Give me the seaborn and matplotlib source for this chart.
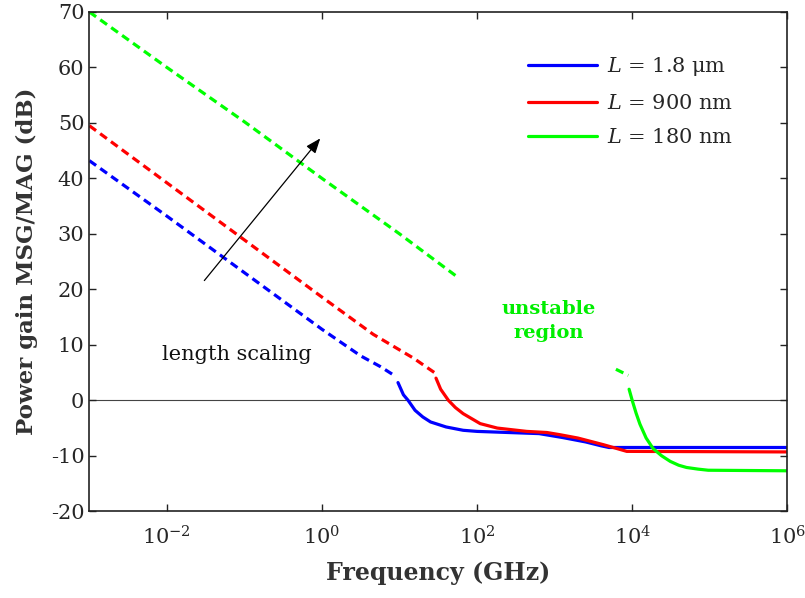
import numpy as np
import pandas as pd
import matplotlib
matplotlib.use("Agg")
import matplotlib.pyplot as plt
import seaborn as sns
from matplotlib.lines import Line2D
from matplotlib.ticker import NullLocator, FixedLocator

# ---- data (log10 of frequency in GHz, gain in dB) ----
blue_msg_logf = [-3, -2, -1, 0, 0.5, 0.75, 0.93]
blue_msg_gain = [43.2, 33.2, 23.0, 12.8, 8.0, 6.1, 4.5]
blue_mag_logf = [0.98, 1.05, 1.11, 1.2, 1.3, 1.4, 1.6, 1.82, 2.0, 2.4, 2.8, 3.1, 3.4, 3.6, 3.7, 6.0]
blue_mag_gain = [3.2, 1.0, 0.0, -1.8, -3.0, -3.9, -4.8, -5.4, -5.6, -5.8, -6.0, -6.7, -7.5, -8.2, -8.5, -8.5]

red_msg_logf = [-3, -2, -1, 0, 0.66, 1.18, 1.45]
red_msg_gain = [49.5, 39.2, 28.9, 18.6, 11.9, 7.6, 5.0]
red_mag_logf = [1.47, 1.53, 1.63, 1.72, 1.82, 2.04, 2.26, 2.64, 2.9, 3.07, 3.3, 3.63, 3.93, 6.0]
red_mag_gain = [4.0, 2.0, 0.0, -1.3, -2.4, -4.2, -5.0, -5.6, -5.8, -6.2, -6.8, -8.0, -9.2, -9.3]

green_msg_logf = [-3, -2, -1, 0, 1, 1.73]
green_msg_gain = [70.0, 60.0, 50.2, 40.0, 30.0, 22.4]
green_msg2_logf = [3.79, 3.95]
green_msg2_gain = [5.6, 4.5]
green_mag_logf = [3.96, 4.0, 4.05, 4.1, 4.18, 4.27, 4.38, 4.49, 4.6, 4.7, 4.85, 4.98, 6.0]
green_mag_gain = [2.0, 0.0, -2.3, -4.3, -6.8, -8.7, -10.0, -11.0, -11.7, -12.1, -12.4, -12.6, -12.7]

series_names = ["$L$ = 1.8 \u03bcm", "$L$ = 900 nm", "$L$ = 180 nm"]
series_colors = ["#0000ff", "#ff0000", "#00ff00"]

x_tick_exponents = [-2, 0, 2, 4, 6]
y_ticks = [-20, -10, 0, 10, 20, 30, 40, 50, 60, 70]

# ---- build a long table ----
segments = [
    (series_names[0], "MSG", "b1", blue_msg_logf, blue_msg_gain),
    (series_names[0], "MAG", "b2", blue_mag_logf, blue_mag_gain),
    (series_names[1], "MSG", "r1", red_msg_logf, red_msg_gain),
    (series_names[1], "MAG", "r2", red_mag_logf, red_mag_gain),
    (series_names[2], "MSG", "g1", green_msg_logf, green_msg_gain),
    (series_names[2], "MSG", "g2", green_msg2_logf, green_msg2_gain),
    (series_names[2], "MAG", "g3", green_mag_logf, green_mag_gain),
]
rows = []
for name, kind, seg, lf, g in segments:
    for a, b in zip(lf, g):
        rows.append({"freq": 10.0 ** a, "gain": b, "series": name, "kind": kind, "seg": seg})
df = pd.DataFrame(rows)

sns.set_style("ticks")
plt.rcParams["font.family"] = ["DejaVu Serif"]
plt.rcParams["mathtext.fontset"] = "dejavuserif"
plt.rcParams["axes.unicode_minus"] = False
plt.rcParams["xtick.direction"] = "in"
plt.rcParams["ytick.direction"] = "in"

fig = plt.figure(figsize=(8.05, 5.98), dpi=100)
ax = fig.add_axes([0.111, 0.145, 0.867, 0.835])

palette = dict(zip(series_names, series_colors))
sns.lineplot(data=df, x="freq", y="gain", hue="series", style="kind", units="seg",
             estimator=None, sort=False, palette=palette,
             dashes={"MSG": (2.6, 1.6), "MAG": ""}, linewidth=2.3,
             legend=False, ax=ax)

ax.axhline(0, color="#444444", lw=0.8, zorder=0)

ax.set_xscale("log")
ax.set_xlim(1e-3, 1e6)
ax.set_ylim(-20, 70)
ax.xaxis.set_major_locator(FixedLocator([10.0 ** e for e in x_tick_exponents]))
ax.xaxis.set_minor_locator(NullLocator())
ax.set_xticklabels(["$10^{%d}$" % e for e in x_tick_exponents])
ax.set_yticks(y_ticks)
ax.tick_params(axis="both", which="both", top=True, right=True, length=5, width=1,
               labelsize=15, color="#222222")
ax.tick_params(axis="x", pad=10)
for s in ax.spines.values():
    s.set_linewidth(1.2)
    s.set_color("#222222")

ax.set_xlabel("Frequency (GHz)", fontsize=17, fontweight="bold", color="#333333", labelpad=9)
ax.set_ylabel("Power gain MSG/MAG (dB)", fontsize=16.5, fontweight="bold", color="#333333", labelpad=9)

handles = [Line2D([0], [0], color=c, lw=2.3) for c in series_colors]
ax.legend(handles, series_names, loc="upper right", bbox_to_anchor=(0.935, 0.93),
          frameon=False, fontsize=15, handlelength=3.3, labelspacing=0.75,
          borderaxespad=0.0, handletextpad=0.5)

ax.text(10 ** -1.1, 8.3, "length scaling", fontsize=15, ha="center", va="center", color="#111111")
ax.text(10 ** 2.92, 14.3, "unstable\nregion", fontsize=14, ha="center", va="center",
        color="#00ee00", fontweight="bold", linespacing=1.45)
ax.annotate("", xy=(10 ** 0.0, 47.6), xytext=(10 ** -1.54, 21.2),
            arrowprops=dict(arrowstyle="-|>,head_length=0.9,head_width=0.35", lw=0.9, color="black"))

fig.savefig("out.png", dpi=100)
